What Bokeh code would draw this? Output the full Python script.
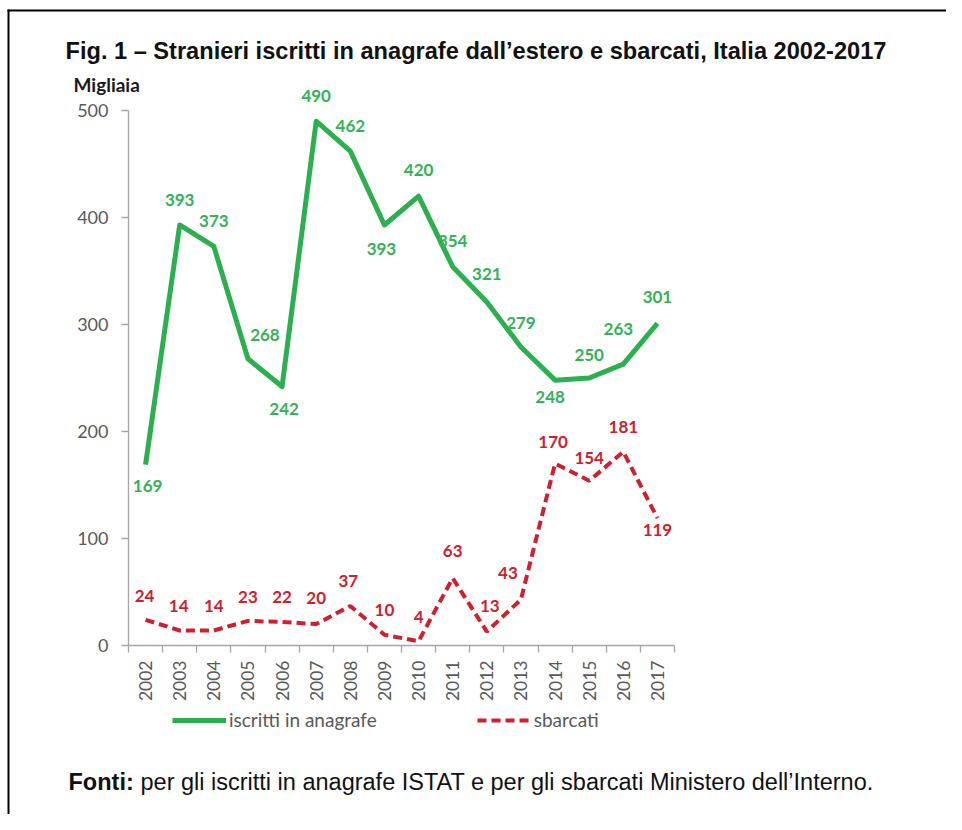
import math
from bokeh.plotting import figure
from bokeh.models import (Range1d, FixedTicker, Label, ColumnDataSource, Legend,
                          LegendItem, BoxAnnotation)
from bokeh.core.properties import value
from bokeh.embed import file_html
from bokeh.resources import INLINE

# ---------------- data ----------------
years = list(range(2002, 2018))
year_labels = [str(y) for y in years]
iscritti = [169, 393, 373, 268, 242, 490, 462, 393, 420, 354, 321, 279, 248, 250, 263, 301]
sbarcati = [24, 14, 14, 23, 22, 20, 37, 10, 4, 63, 13, 43, 170, 154, 181, 119]
y_ticks = [0, 100, 200, 300, 400, 500]

title_text = "Fig. 1 \u2013 Stranieri iscritti in anagrafe dall\u2019estero e sbarcati, Italia 2002-2017"
unit_text = "Migliaia"
source_bold = "Fonti:"
source_text = "per gli iscritti in anagrafe ISTAT e per gli sbarcati Ministero dell\u2019Interno."
series_names = ["iscritti in anagrafe", "sbarcati"]

# ---------------- label placement (screen px offsets, style only) ----------------
green_dx = [2, 0, 0, 17, 2, 0, 0, -3, 0, 0, 0, 0, -5, 0, -5, 0]
green_dy = [21, -25, -25, -24, 22, -25, -25, 24, -26, -26, -28, -24, 17, -23, -35, -26]
red_dx = [-1, -1, 0, 0, 0, 0, -2, 0, 0, 0, 3, -13, -2, 0, 0, 0]
red_dy = [-24, -25, -25, -24, -25, -26, -25, -25, -24, -27, -26, -26, -22, -23, -25, 12]

GREEN = "#2BAF4F"
GREEN_TXT = "#33B256"
RED = "#D0202E"
AXIS = "#A6A6A6"
TICK_TXT = "#595959"

# ---------------- geometry (canvas px) ----------------
W, H = 946, 814
PL, PR, PT, PB = 128, 674, 110, 645   # plot area: left/right edge, y of top tick, y of zero

x_lo, x_hi = years[0] - 0.5, years[-1] + 0.5
y_lo, y_hi = y_ticks[0], y_ticks[-1]
sx = (PR - PL) / (x_hi - x_lo)
sy = (PB - PT) / (y_hi - y_lo)

p = figure(width=W, height=H, output_backend="svg", toolbar_location=None,
           title=None,
           x_range=Range1d(x_lo - PL / sx, x_hi + (W - PR) / sx),
           y_range=Range1d(y_lo - (H - PB) / sy, y_hi + PT / sy),
           min_border=0)
p.outline_line_color = None
p.xgrid.visible = False
p.ygrid.visible = False
p.background_fill_color = "white"
p.border_fill_color = "white"

# x axis: labels at centres, tick marks at category boundaries
xa = p.xaxis[0]
xa.fixed_location = y_lo
xa.bounds = (x_lo, x_hi)
xa.ticker = FixedTicker(ticks=years,
                        minor_ticks=[y - 0.5 for y in years] + [years[-1] + 0.5])
xa.major_label_overrides = {y: s for y, s in zip(years, year_labels)}
xa.major_label_orientation = math.pi / 2
xa.major_tick_line_color = None
xa.major_tick_out = 0
xa.major_tick_in = 0
xa.minor_tick_out = 7
xa.minor_tick_in = 0
xa.minor_tick_line_color = AXIS
xa.minor_tick_line_width = 1.3
xa.axis_line_color = AXIS
xa.axis_line_width = 1.3
xa.major_label_standoff = 8
xa.major_label_text_font = "Lato"
xa.major_label_text_font_size = "17.5px"
xa.major_label_text_color = TICK_TXT

ya = p.yaxis[0]
ya.fixed_location = x_lo
ya.ticker = FixedTicker(ticks=y_ticks, minor_ticks=[])
ya.bounds = (y_lo, y_hi)
ya.major_tick_out = 7
ya.major_tick_in = 0
ya.minor_tick_line_color = None
ya.major_tick_line_color = AXIS
ya.major_tick_line_width = 1.3
ya.axis_line_color = AXIS
ya.axis_line_width = 1.3
ya.major_label_standoff = 13
ya.major_label_text_font = "Lato"
ya.major_label_text_font_size = "18px"
ya.major_label_text_color = TICK_TXT

# ---------------- series ----------------
g = p.line(years, iscritti, line_color=GREEN, line_width=5, line_join="round")
r = p.line(years, sbarcati, line_color=RED, line_width=4, line_dash="9 5")

gsrc = ColumnDataSource(dict(x=years, y=iscritti, t=[str(v) for v in iscritti],
                             dx=green_dx, dy=green_dy))
rsrc = ColumnDataSource(dict(x=years, y=sbarcati, t=[str(v) for v in sbarcati],
                             dx=red_dx, dy=red_dy))
for src, col in ((gsrc, GREEN_TXT), (rsrc, RED)):
    p.text(x="x", y="y", text="t", x_offset="dx", y_offset="dy", source=src,
           text_color=col, text_font=value("Lato"), text_font_style="bold",
           text_font_size="17px", text_align="center", text_baseline="middle")

# ---------------- legend ----------------
legend = Legend(items=[LegendItem(label=series_names[0], renderers=[g]),
                       LegendItem(label=series_names[1], renderers=[r])],
                orientation="horizontal", location=(172, H - 731),
                glyph_width=54, glyph_height=20, label_standoff=3, spacing=100,
                padding=0, margin=0, border_line_color=None,
                background_fill_alpha=0,
                label_text_font="Lato", label_text_font_size="19px",
                label_text_color=TICK_TXT, label_height=20)
p.add_layout(legend, "center")

# ---------------- texts ----------------
p.add_layout(Label(x=65, y=50, x_units="canvas", y_units="canvas", text=title_text,
                   text_font="Liberation Sans", text_font_style="bold",
                   text_font_size="23.6px", text_color="#111111",
                   text_baseline="middle", text_align="left"))
p.add_layout(Label(x=73, y=84, x_units="canvas", y_units="canvas", text=unit_text,
                   text_font="Lato", text_font_style="bold",
                   text_font_size="19px", text_color="#1a1a1a",
                   text_baseline="middle", text_align="left"))
p.add_layout(Label(x=68, y=781, x_units="canvas", y_units="canvas", text=source_bold,
                   text_font="Liberation Sans", text_font_style="bold",
                   text_font_size="23.5px", text_color="#111111",
                   text_baseline="middle", text_align="left"))
p.add_layout(Label(x=140, y=781, x_units="canvas", y_units="canvas", text=source_text,
                   text_font="Liberation Sans", text_font_size="23.5px",
                   text_color="#111111",
                   text_baseline="middle", text_align="left"))

# frame around the figure: only the left and top edges fall inside the picture
for l, r_, t, b in ((7, 9, 9, 3000), (7, 3000, 9, 11)):
    p.add_layout(BoxAnnotation(left=l, right=r_, top=t, bottom=b,
                               left_units="canvas", right_units="canvas",
                               top_units="canvas", bottom_units="canvas",
                               fill_color="black", fill_alpha=1,
                               line_color=None))

open("out.html", "w").write(file_html(p, INLINE))
